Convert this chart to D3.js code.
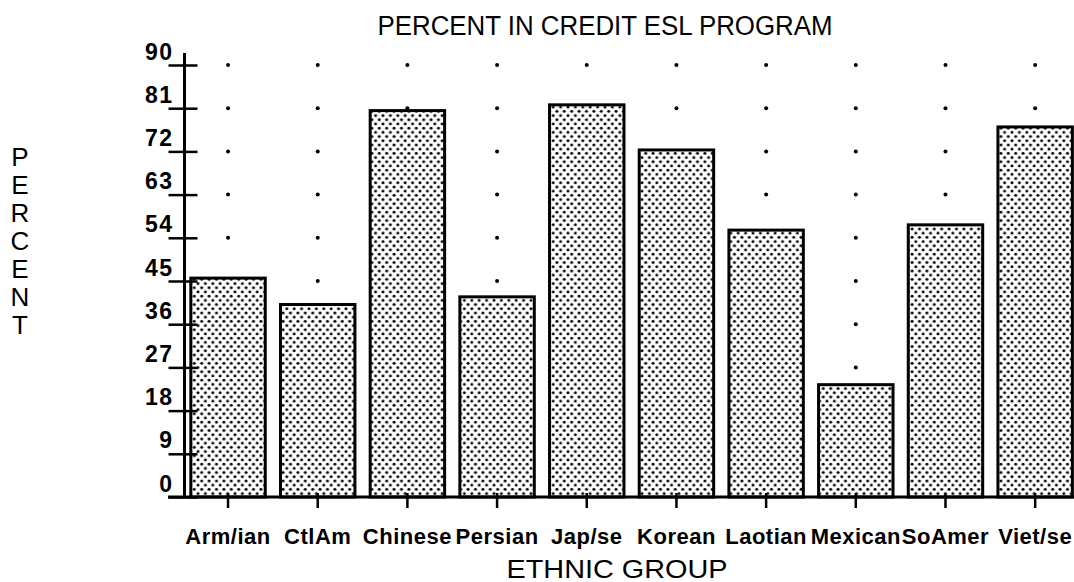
<!DOCTYPE html>
<html>
<head>
<meta charset="utf-8">
<script src="https://cdn.jsdelivr.net/npm/d3@7/dist/d3.min.js"></script>
<style>
  html, body { margin: 0; padding: 0; background: #fff; }
  svg { display: block; font-family: "Liberation Sans", Arial, Helvetica, sans-serif; }
</style>
</head>
<body>
<svg id="chart" width="1074" height="582"></svg>
<script>
// Ethnic groups and the share of each enrolled in the credit ESL program
const groups = ["Arm/ian", "CtlAm", "Chinese", "Persian", "Jap/se", "Korean", "Laotian", "Mexican", "SoAmer", "Viet/se"];
const percents = [45.6, 40.1, 80.5, 41.7, 81.7, 72.3, 55.6, 23.4, 56.7, 77.1];
const yTicks = [0, 9, 18, 27, 36, 45, 54, 63, 72, 81, 90];
const titleText = "PERCENT IN CREDIT ESL PROGRAM";
const xTitle = "ETHNIC GROUP";
const yTitle = "PERCENT";

const svg = d3.select("#chart");
const baseY = 497;
const axisX = 184.5;

const x = d3.scaleBand().domain(groups).range([183.2, 1080]).paddingInner(0.17).paddingOuter(0.085);
const y = d3.scaleLinear().domain([0, 90]).range([baseY, 65]);

// stipple fill for the bars
const defs = svg.append("defs");
const pat = defs.append("pattern")
  .attr("id", "stipple")
  .attr("patternUnits", "userSpaceOnUse")
  .attr("width", 7.4).attr("height", 8.4);
pat.append("rect").attr("width", 7.4).attr("height", 8.4).attr("fill", "#fff");
pat.append("circle").attr("cx", 1.9).attr("cy", 2.1).attr("r", 1.5).attr("fill", "#000");
pat.append("circle").attr("cx", 5.6).attr("cy", 6.3).attr("r", 1.5).attr("fill", "#000");

// dotted grid: one dot per category at every tick level above zero
const gridLevels = yTicks.filter(d => d > 0);
const dots = [];
groups.forEach(g => gridLevels.forEach(v => dots.push({ g, v })));
svg.append("g").selectAll("circle").data(dots).join("circle")
  .attr("cx", d => x(d.g) + x.bandwidth() / 2)
  .attr("cy", d => y(d.v))
  .attr("r", 2)
  .attr("fill", "#000");

// bars
svg.append("g").selectAll("rect").data(groups).join("rect")
  .attr("x", d => x(d))
  .attr("y", (d, i) => y(percents[i]))
  .attr("width", x.bandwidth())
  .attr("height", (d, i) => baseY - y(percents[i]))
  .attr("fill", "url(#stipple)")
  .attr("stroke", "#000")
  .attr("stroke-width", 3);

// y axis
const yAxis = d3.axisLeft(y).tickValues(yTicks).tickSizeInner(16).tickSizeOuter(0).tickPadding(12);
const gy = svg.append("g").attr("transform", `translate(${axisX},0)`).call(yAxis);
gy.select(".domain").remove();
gy.selectAll(".tick line").attr("x2", -16).attr("x1", 13).attr("stroke", "#000").attr("stroke-width", 2.5);
gy.selectAll(".tick text")
  .attr("x", -11)
  .attr("dy", null)
  .attr("y", -6)
  .attr("fill", "#000")
  .attr("font-size", 23)
  .attr("font-weight", "bold")
  .attr("letter-spacing", 1.5)
  .attr("font-family", "'Liberation Sans', Arial, sans-serif");
svg.append("line")
  .attr("x1", axisX).attr("x2", axisX)
  .attr("y1", 53).attr("y2", baseY)
  .attr("stroke", "#000").attr("stroke-width", 3);

// x axis
const xAxis = d3.axisBottom(x).tickSizeInner(11).tickSizeOuter(0).tickPadding(0);
const gx = svg.append("g").attr("transform", `translate(0,${baseY})`).call(xAxis);
gx.select(".domain").remove();
gx.selectAll(".tick line").attr("y1", -4).attr("stroke", "#000").attr("stroke-width", 2.5);
gx.selectAll(".tick text")
  .attr("y", 47)
  .attr("dy", null)
  .attr("fill", "#000")
  .attr("font-size", 22)
  .attr("font-weight", "bold")
  .attr("letter-spacing", 0.5)
  .attr("font-family", "'Liberation Sans', Arial, sans-serif");
svg.append("line")
  .attr("x1", 168).attr("x2", 1074)
  .attr("y1", baseY).attr("y2", baseY)
  .attr("stroke", "#000").attr("stroke-width", 3);

// titles
svg.append("text")
  .attr("x", 605).attr("y", 35)
  .attr("text-anchor", "middle")
  .attr("textLength", 455).attr("lengthAdjust", "spacingAndGlyphs")
  .style("font-size", "27px")
  .text(titleText);

svg.append("text")
  .attr("x", 617).attr("y", 578)
  .attr("text-anchor", "middle")
  .attr("textLength", 221).attr("lengthAdjust", "spacingAndGlyphs")
  .style("font-size", "25px")
  .text(xTitle);

svg.append("g").selectAll("text").data(yTitle.split("")).join("text")
  .attr("x", 20)
  .attr("y", (d, i) => 166 + i * 28)
  .attr("text-anchor", "middle")
  .style("font-size", "26px")
  .text(d => d);
</script>
</body>
</html>
